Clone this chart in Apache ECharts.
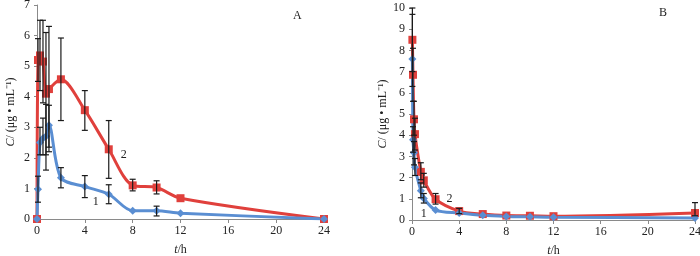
<!DOCTYPE html>
<html lang="en">
<head>
    <meta charset="utf-8"/>
    <title>C-t curves A / B</title>
    <script src="https://cdn.jsdelivr.net/npm/echarts@6/dist/echarts.min.js"></script>
    <style>
        html, body { margin: 0; padding: 0; background: #fff; }
        #main { width: 700px; height: 256px; }
    </style>
</head>
<body>
<div id="main"></div>
<script>
    // panel A
    var timesA = [0, 0.083, 0.25, 0.5, 0.75, 1, 2, 4, 6, 8, 10, 12, 24];
    var redA = [0, 5.2, 5.35, 5.15, 4.1, 4.25, 4.57, 3.56, 2.28, 1.1, 1.03, 0.68, 0];
    var redLowA = [0, 4.5, 4.2, 3.8, 2.1, 2.2, 3.22, 2.9, 1.33, 0.92, 0.82, 0.68, 0];
    var redHighA = [0, 5.9, 6.5, 6.5, 6.1, 6.3, 5.92, 4.2, 3.22, 1.3, 1.25, 0.68, 0];
    var blueA = [0, 0.97, 2.5, 2.64, 2.71, 3.07, 1.35, 1.06, 0.81, 0.27, 0.27, 0.19, 0];
    var blueLowA = [0, 0.55, 2.1, 2.1, 1.6, 2.35, 1.02, 0.7, 0.5, 0.27, 0.1, 0.19, 0];
    var blueHighA = [0, 1.4, 3.0, 3.3, 3.75, 3.72, 1.68, 1.42, 1.12, 0.27, 0.42, 0.19, 0];

    // panel B
    var timesB = [0.033, 0.083, 0.167, 0.25, 0.75, 1, 2, 4, 6, 8, 10, 12, 24];
    var redB = [8.5, 6.85, 4.75, 4.05, 2.27, 1.87, 0.98, 0.42, 0.28, 0.21, 0.2, 0.18, 0.33];
    var redLowB = [7.0, 5.6, 4.0, 3.3, 1.9, 1.55, 0.75, 0.3, 0.28, 0.21, 0.2, 0.18, 0.2];
    var redHighB = [10.0, 8.1, 5.6, 4.8, 2.7, 2.2, 1.25, 0.55, 0.28, 0.21, 0.2, 0.18, 0.82];
    var blueB = [7.6, 3.78, 3.17, 2.49, 1.38, 1.02, 0.47, 0.33, 0.22, 0.17, 0.15, 0.13, 0.1];
    var blueLowB = [6.3, 3.2, 2.6, 2.1, 1.05, 0.8, 0.47, 0.33, 0.22, 0.17, 0.15, 0.13, 0.1];
    var blueHighB = [9.7, 4.4, 3.7, 2.9, 1.75, 1.25, 0.47, 0.33, 0.22, 0.17, 0.15, 0.13, 0.1];

    var RED = '#E0403C';
    var BLUE = '#5A8ED2';
    var FONT = 'Liberation Serif';

    function pairs(xs, ys) {
        return xs.map(function (x, i) { return [x, ys[i]]; });
    }
    function bars(xs, lo, hi) {
        var out = [];
        xs.forEach(function (x, i) {
            if (hi[i] - lo[i] > 0.001) out.push([x, lo[i], hi[i]]);
        });
        return out;
    }

    function errRender(params, api) {
        var x = api.value(0);
        var top = api.coord([x, api.value(2)]);
        var bot = api.coord([x, api.value(1)]);
        var w = 3;
        var st = { stroke: '#1a1a1a', lineWidth: 1.2 };
        return {
            type: 'group',
            children: [
                { type: 'line', shape: { x1: top[0], y1: top[1], x2: bot[0], y2: bot[1] }, style: st },
                { type: 'line', shape: { x1: top[0] - w, y1: top[1], x2: top[0] + w, y2: top[1] }, style: st },
                { type: 'line', shape: { x1: bot[0] - w, y1: bot[1], x2: bot[0] + w, y2: bot[1] }, style: st }
            ]
        };
    }

    function xAxisCfg(idx) {
        return {
            type: 'value', gridIndex: idx, min: 0, max: 24, interval: 4,
            name: '{i|t}/h', nameLocation: 'middle', nameGap: 25,
            nameTextStyle: { fontFamily: FONT, fontSize: 12, color: '#222',
                rich: { i: { fontStyle: 'italic', fontFamily: FONT, fontSize: 12, color: '#222' } } },
            axisLine: { lineStyle: { color: '#8a8a8a', width: 1 } },
            axisTick: { length: 4, lineStyle: { color: '#8a8a8a' } },
            axisLabel: { fontFamily: FONT, fontSize: 12, color: '#222', margin: 6 },
            splitLine: { show: false }
        };
    }
    function yAxisCfg(idx, max, gap) {
        return {
            type: 'value', gridIndex: idx, min: 0, max: max, interval: 1,
            name: '{i|C}/ (μg • mL⁻¹)', nameLocation: 'middle', nameRotate: 90, nameGap: gap,
            nameTextStyle: { fontFamily: FONT, fontSize: 12, color: '#222',
                rich: { i: { fontStyle: 'italic', fontFamily: FONT, fontSize: 12, color: '#222' } } },
            axisLine: { show: true, lineStyle: { color: '#8a8a8a', width: 1 } },
            axisTick: { show: true, length: 3, lineStyle: { color: '#8a8a8a' } },
            axisLabel: { fontFamily: FONT, fontSize: 12, color: '#222', margin: 7 },
            splitLine: { show: false }
        };
    }

    function curve(name, xi, xs, ys, color, symbol, labelIdx, labelText, labelOffset) {
        var data = pairs(xs, ys).map(function (p, i) {
            if (i === labelIdx) {
                return {
                    value: p,
                    label: { show: true, formatter: labelText, position: 'inside', offset: labelOffset,
                        color: '#222', fontFamily: FONT, fontSize: 12 }
                };
            }
            return p;
        });
        return {
            name: name, type: 'line', xAxisIndex: xi, yAxisIndex: xi,
            data: data, smooth: 0.3, symbol: symbol, symbolSize: 8,
            lineStyle: { color: color, width: 3 },
            itemStyle: { color: color },
            z: 3
        };
    }

    var chart = echarts.init(document.getElementById('main'));
    var option = {
        animation: false,
        grid: [
            { left: 37, top: 5, width: 287, height: 214, containLabel: false, outerBoundsMode: 'none' },
            { left: 412, top: 8, width: 283, height: 212, containLabel: false, outerBoundsMode: 'none' }
        ],
        xAxis: [xAxisCfg(0), xAxisCfg(1)],
        yAxis: [yAxisCfg(0, 7, 20), yAxisCfg(1, 10, 23)],
        graphic: [
            { type: 'text', left: 293, top: 10, style: { text: 'A', font: '12px "Liberation Serif"', fill: '#222' } },
            { type: 'text', left: 659, top: 7, style: { text: 'B', font: '12px "Liberation Serif"', fill: '#222' } }
        ],
        series: [
            { type: 'custom', xAxisIndex: 0, yAxisIndex: 0, renderItem: errRender, data: bars(timesA, redLowA, redHighA), z: 4 },
            { type: 'custom', xAxisIndex: 0, yAxisIndex: 0, renderItem: errRender, data: bars(timesA, blueLowA, blueHighA), z: 4 },
            curve('2', 0, timesA, redA, RED, 'rect', 8, '2', [15, 6]),
            curve('1', 0, timesA, blueA, BLUE, 'diamond', 7, '1', [11, 15]),
            { type: 'custom', xAxisIndex: 1, yAxisIndex: 1, renderItem: errRender, data: bars(timesB, redLowB, redHighB), z: 4 },
            { type: 'custom', xAxisIndex: 1, yAxisIndex: 1, renderItem: errRender, data: bars(timesB, blueLowB, blueHighB), z: 4 },
            curve('2', 1, timesB, redB, RED, 'rect', 6, '2', [14, 0]),
            curve('1', 1, timesB, blueB, BLUE, 'diamond', 5, '1', [0, 15])
        ]
    };
    chart.setOption(option);
</script>
</body>
</html>
